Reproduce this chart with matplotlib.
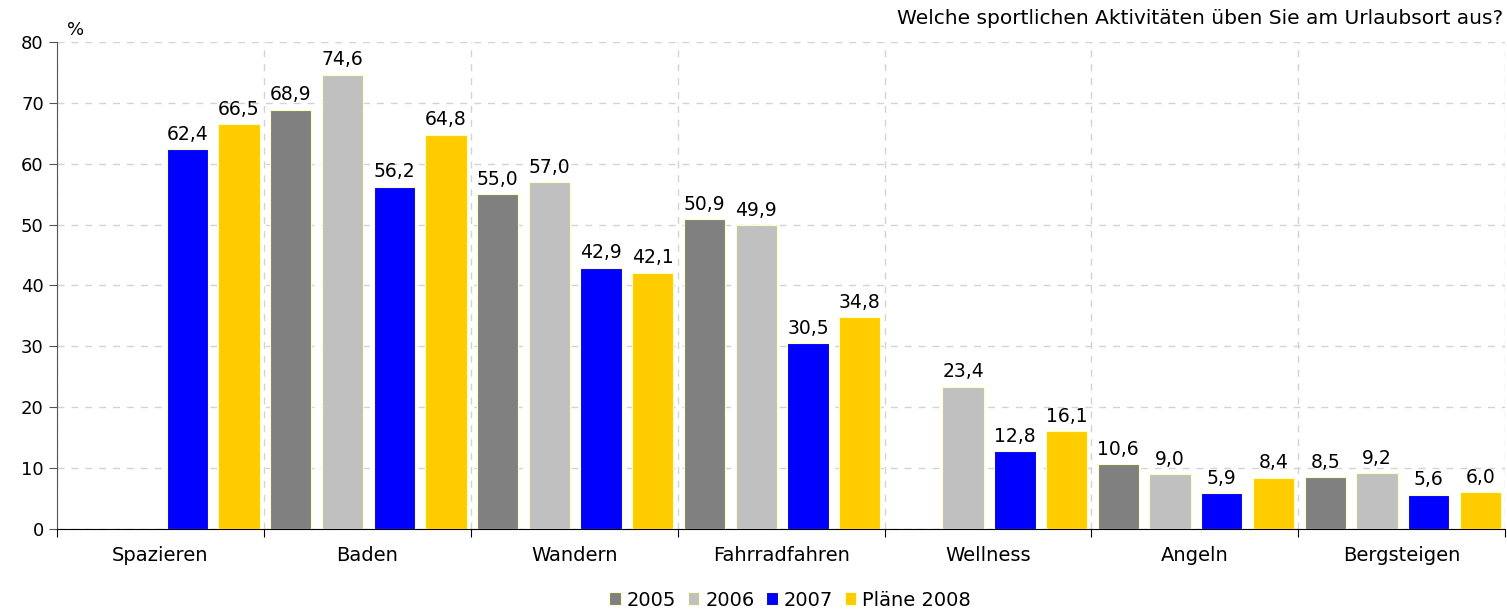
import matplotlib.pyplot as plt
import numpy as np

categories = ['Spazieren', 'Baden', 'Wandern', 'Fahrradfahren', 'Wellness', 'Angeln', 'Bergsteigen']
series_names = ['2005', '2006', '2007', 'Pläne 2008']
v2005 = [np.nan, 68.9, 55.0, 50.9, np.nan, 10.6, 8.5]
v2006 = [np.nan, 74.6, 57.0, 49.9, 23.4, 9.0, 9.2]
v2007 = [62.4, 56.2, 42.9, 30.5, 12.8, 5.9, 5.6]
v2008 = [66.5, 64.8, 42.1, 34.8, 16.1, 8.4, 6.0]
colors = ['#808080', '#c0c0c0', '#0000ff', '#ffcc00']

plt.rcParams['font.family'] = ['DejaVu Sans']

fig = plt.figure(figsize=(15.07, 6.11), dpi=100)
ax = fig.add_axes([0.0378, 0.1342, 0.961, 0.7971])

x = np.arange(len(categories))
width = 0.2
step = 0.25
for i, (vals, name, col) in enumerate(zip([v2005, v2006, v2007, v2008], series_names, colors)):
    pos = x + (i - 1.5) * step + 0.005
    ax.bar(pos, vals, width, color=col, edgecolor='#ffffc0', linewidth=0.8,
           label=name, zorder=3)
    for p, v in zip(pos, vals):
        if not np.isnan(v):
            ax.text(p, v + 0.9, f'{v:.1f}'.replace('.', ','), ha='center', va='bottom',
                    fontsize=13.5, zorder=4)

ax.set_xlim(-0.5, len(categories) - 0.5)
ax.set_ylim(0, 80)
ax.set_yticks(np.arange(0, 81, 10))
ax.tick_params(axis='y', labelsize=13, length=6, color='#555555')

# category boundaries as ticks, names centred in between
ax.set_xticks(np.arange(-0.5, len(categories)), minor=False)
ax.set_xticklabels([])
ax.set_xticks(x, minor=True)
ax.set_xticklabels(categories, minor=True, fontsize=14)
ax.tick_params(axis='x', which='major', length=6, color='black')
ax.tick_params(axis='x', which='minor', length=0, pad=12)

ax.grid(True, which='major', linestyle=(0, (5, 5)), color='#d3d3d3', linewidth=1, zorder=0)
ax.spines['top'].set_visible(False)
ax.spines['right'].set_visible(False)
ax.spines['left'].set_color('#555555')
ax.spines['bottom'].set_color('black')

fig.text(76 / 1507, 1 - 30 / 611, '%', fontsize=13, ha='center', va='center')
fig.text(1503 / 1507, 1 - 18 / 611, 'Welche sportlichen Aktivitäten üben Sie am Urlaubsort aus?',
         fontsize=14.5, ha='right', va='center')

fig.legend(loc='center', bbox_to_anchor=(790 / 1507, 1 - 600 / 611), ncol=4, frameon=False,
           fontsize=14, handlelength=0.6, handleheight=0.6, handletextpad=0.3, columnspacing=0.6)

fig.savefig('out.png', dpi=100)
